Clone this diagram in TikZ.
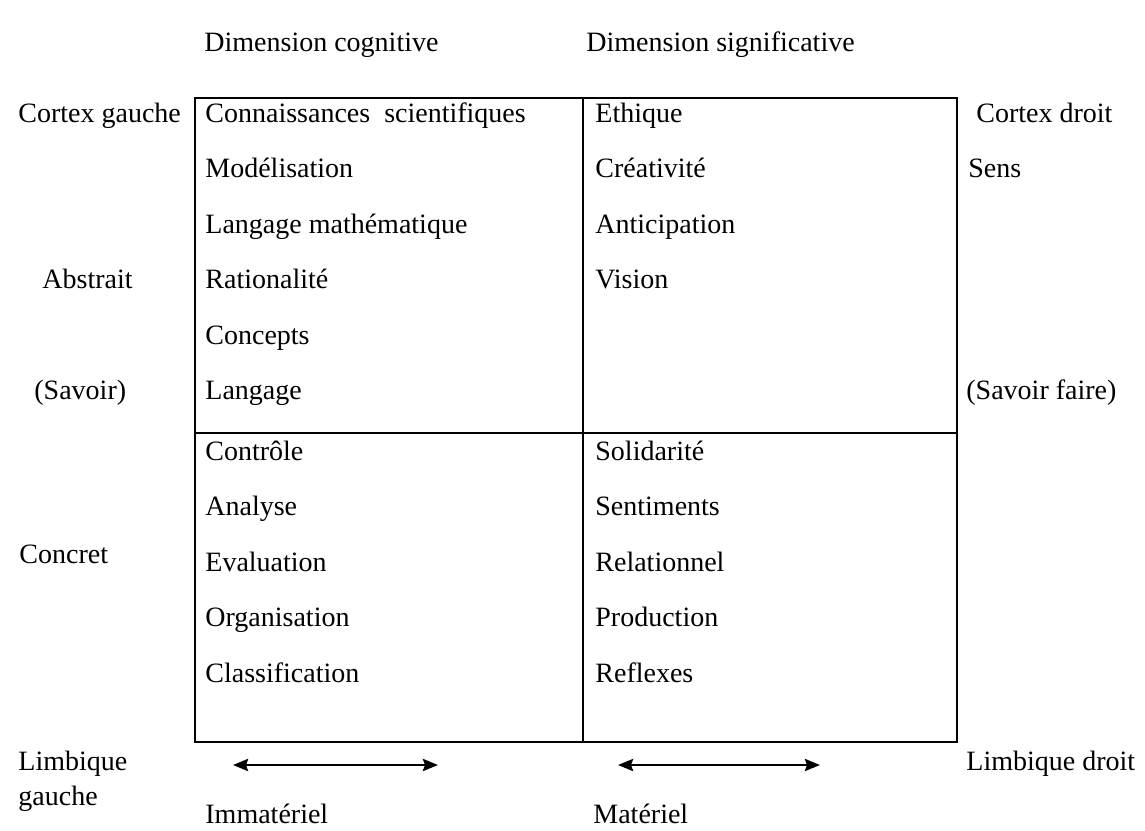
\documentclass[tikz,border=0pt]{standalone}
\usepackage{fontspec}
\setmainfont{Liberation Serif}
\usetikzlibrary{arrows,arrows.meta}

\begin{document}
\begin{tikzpicture}[x=0.5pt,y=-0.5pt,
		txt/.style={anchor=base west,inner sep=0pt,font=\fontsize{14}{17.5}\selectfont},
		grid/.style={line width=0.8pt}]
	\useasboundingbox (0,0) rectangle (1145,830);
	% the four cells
	\coordinate (nw) at (195,98);
	\coordinate (ne) at (957,98);
	\coordinate (sw) at (195,742);
	\coordinate (se) at (957,742);
	\coordinate (nm) at (583,98);
	\coordinate (sm) at (583,742);
	\coordinate (wm) at (195,433);
	\coordinate (em) at (957,433);
	\draw[grid] (nw) rectangle (se);
	\draw[grid] (nm) -- (sm) (wm) -- (em);
	% headings
	\node[txt] (cog) at (204,51) {Dimension cognitive};
	\node[txt] (sig) at (586,51) {Dimension significative};
	% left column
	\node[txt] (c1) at (205,122) {Connaissances\ \ scientifiques};
	\node[txt] (c2) at (205,177.5) {Modélisation};
	\node[txt] (c3) at (205,233) {Langage mathématique};
	\node[txt] (c4) at (205,288.5) {Rationalité};
	\node[txt] (c5) at (205,344) {Concepts};
	\node[txt] (c6) at (205,399.5) {Langage};
	\node[txt] (c7) at (205,460) {Contrôle};
	\node[txt] (c8) at (205,515.5) {Analyse};
	\node[txt] (c9) at (205,571) {Evaluation};
	\node[txt] (c10) at (205,626.5) {Organisation};
	\node[txt] (c11) at (205,682) {Classification};
	% right column
	\node[txt] (s1) at (595,122) {Ethique};
	\node[txt] (s2) at (595,177.5) {Créativité};
	\node[txt] (s3) at (595,233) {Anticipation};
	\node[txt] (s4) at (595,288.5) {Vision};
	\node[txt] (s5) at (595,460) {Solidarité};
	\node[txt] (s6) at (595,515.5) {Sentiments};
	\node[txt] (s7) at (595,571) {Relationnel};
	\node[txt] (s8) at (595,626.5) {Production};
	\node[txt] (s9) at (595,682) {Reflexes};
	% outer labels
	\node[txt] (cg) at (18,122) {Cortex gauche};
	\node[txt] (abs) at (42,288.5) {Abstrait};
	\node[txt] (sav) at (34,399.5) {(Savoir)};
	\node[txt] (con) at (19,563) {Concret};
	\node[txt,align=left] (lg) at (18,805) {Limbique\\gauche};
	\node[txt] (cd) at (976,122) {Cortex droit};
	\node[txt] (sens) at (968,177.5) {Sens};
	\node[txt] (savf) at (966,399.5) {(Savoir faire)};
	\node[txt] (ld) at (966,770) {Limbique droit};
	\node[txt] (imm) at (205,823) {Immatériel};
	\node[txt] (mat) at (593,823) {Matériel};
	% arrows
	\coordinate (a1) at (233,765);
	\coordinate (a2) at (438,765);
	\coordinate (b1) at (618,765);
	\coordinate (b2) at (820,765);
	\path[{Stealth[length=7.5pt,width=6pt,inset=1pt]}-{Stealth[length=7.5pt,width=6pt,inset=1pt]},line width=1.4pt]
	(a1) edge (a2)
	(b1) edge (b2);
\end{tikzpicture}
\end{document}
